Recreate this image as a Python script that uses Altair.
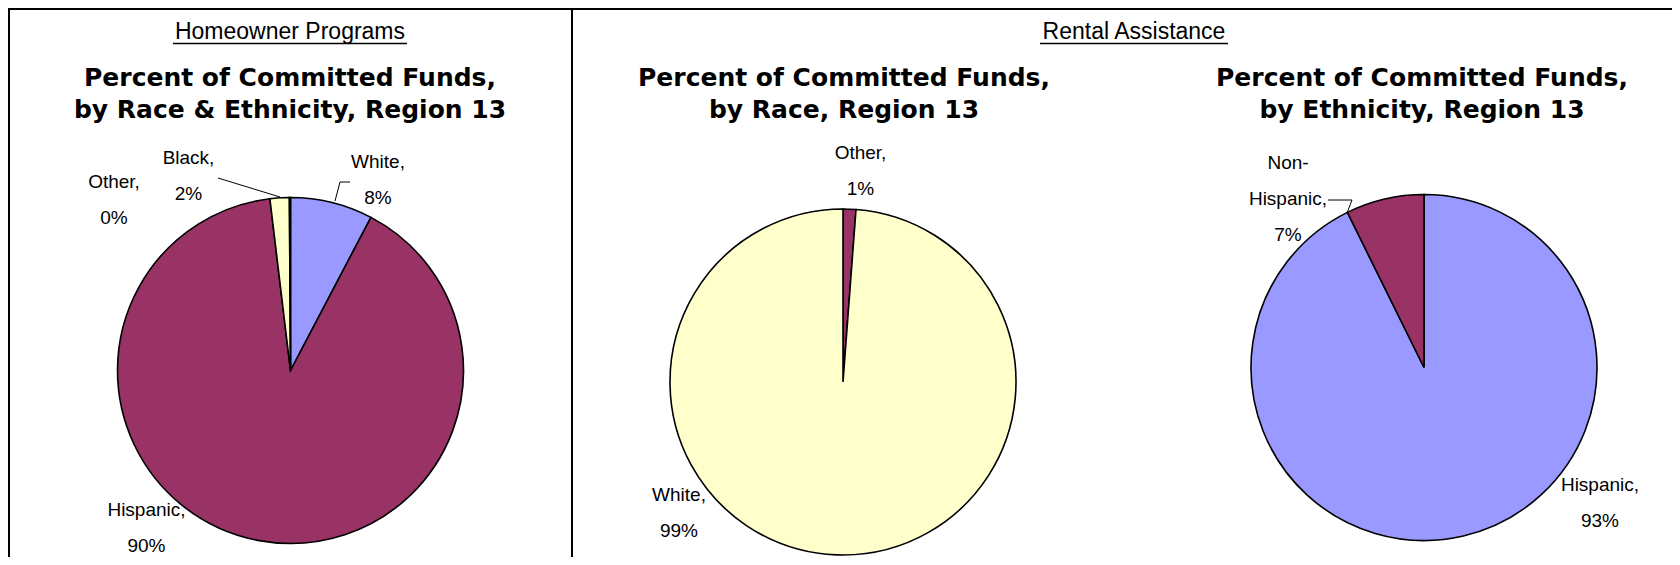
import altair as alt
import pandas as pd

# ---------------- data ----------------
home_cats = ["White", "Hispanic", "Black", "Other"]
home_vals = [7.7, 90.4, 1.8, 0.1]
race_cats = ["Other", "White"]
race_vals = [1.2, 98.8]
eth_cats = ["Hispanic", "Non-Hispanic"]
eth_vals = [92.7, 7.3]

section_titles = ["Homeowner Programs", "Rental Assistance"]
chart_titles = [
    ["Percent of Committed Funds,", "by Race & Ethnicity, Region 13"],
    ["Percent of Committed Funds,", "by Race, Region 13"],
    ["Percent of Committed Funds,", "by Ethnicity, Region 13"],
]

# ---------------- styles / layout ----------------
W, H = 1664, 549
R = 173
BLUE, MAROON, YELLOW, CYAN = "#9999FF", "#993366", "#FFFFCC", "#CCFFFF"
home_colors = [BLUE, MAROON, YELLOW, CYAN]
race_colors = [MAROON, YELLOW]
eth_colors = [BLUE, MAROON]

pie_centers = [(282.5, 362.5), (835, 374), (1416, 359.5)]
title_x = [282, 836, 1414]
# first-line centre of each data label
label_pos = [
    {"White": (370, 154), "Hispanic": (138.5, 502), "Black": (180.5, 150), "Other": (106, 174)},
    {"Other": (852.5, 145), "White": (671, 487)},
    {"Hispanic": (1592, 477), "Non-Hispanic": (1280, 155)},
]
leaders = [
    (210, 170, 272, 189),
    (342, 174, 332, 174), (332, 174, 327, 193),
    (1320, 192, 1344, 192), (1344, 192, 1339, 205),
]
borders = [
    (0, 1, W, 1),
    (1, 0, 1, H),
    (564, 0, 564, H),
]
section_pos = [(282, 31), (1126, 31)]
underlines = [(165, 35.5, 399, 35.5), (1032, 35.5, 1220, 35.5)]

LABEL_FONT = "Liberation Sans"
TITLE_FONT = "DejaVu Sans"


def pie(cats, vals, colors, center):
    df = pd.DataFrame({"cat": cats, "val": vals, "ord": list(range(len(cats)))})
    return alt.Chart(df).mark_arc(
        outerRadius=R, stroke="black", strokeWidth=1.6
    ).encode(
        theta=alt.Theta("val:Q", stack=True),
        color=alt.Color("cat:N", scale=alt.Scale(domain=cats, range=colors), legend=None),
        order=alt.Order("ord:Q"),
        x=alt.value(center[0]),
        y=alt.value(center[1]),
    )


def label_text(cat, val):
    name = cat.replace("-", "-\n")
    return f"{name},\n{round(val)}%"


rows = []
for cats, vals, pos in [(home_cats, home_vals, label_pos[0]),
                        (race_cats, race_vals, label_pos[1]),
                        (eth_cats, eth_vals, label_pos[2])]:
    for c, v in zip(cats, vals):
        x, y = pos[c]
        rows.append({"text": label_text(c, v), "x": x, "y": y})
labels_df = pd.DataFrame(rows)

labels = alt.Chart(labels_df).mark_text(
    font=LABEL_FONT, fontSize=19, lineBreak="\n", lineHeight=36,
    align="center", baseline="middle", color="black"
).encode(
    x=alt.X("x:Q", scale=None, axis=None),
    y=alt.Y("y:Q", scale=None, axis=None),
    text="text:N",
)

titles_df = pd.DataFrame({
    "text": ["\n".join(t) for t in chart_titles],
    "x": title_x,
    "y": [78, 78, 78],
})
titles = alt.Chart(titles_df).mark_text(
    font=TITLE_FONT, fontSize=25, fontWeight="bold", lineBreak="\n", lineHeight=32,
    align="center", baseline="alphabetic", color="black"
).encode(
    x=alt.X("x:Q", scale=None, axis=None),
    y=alt.Y("y:Q", scale=None, axis=None),
    text="text:N",
)

sec_df = pd.DataFrame({
    "text": section_titles,
    "x": [p[0] for p in section_pos],
    "y": [p[1] for p in section_pos],
})
sections = alt.Chart(sec_df).mark_text(
    font=LABEL_FONT, fontSize=23, align="center", baseline="alphabetic", color="black"
).encode(
    x=alt.X("x:Q", scale=None, axis=None),
    y=alt.Y("y:Q", scale=None, axis=None),
    text="text:N",
)


def segs(lst, width, color):
    df = pd.DataFrame(lst, columns=["x", "y", "x2", "y2"])
    return alt.Chart(df).mark_rule(strokeWidth=width, color=color).encode(
        x=alt.X("x:Q", scale=None, axis=None),
        y=alt.Y("y:Q", scale=None, axis=None),
        x2="x2:Q",
        y2="y2:Q",
    )


chart = alt.layer(
    segs(borders, 2, "black"),
    segs(underlines, 1.5, "black"),
    pie(home_cats, home_vals, home_colors, pie_centers[0]),
    pie(race_cats, race_vals, race_colors, pie_centers[1]),
    pie(eth_cats, eth_vals, eth_colors, pie_centers[2]),
    segs(leaders, 1, "black"),
    labels,
    titles,
    sections,
).resolve_scale(
    color="independent", theta="independent"
).properties(
    width=W, height=H, padding=0, autosize="none", background="white"
).configure_view(stroke=None)

chart.save("out.html", embed_options={"renderer": "svg", "actions": False})
